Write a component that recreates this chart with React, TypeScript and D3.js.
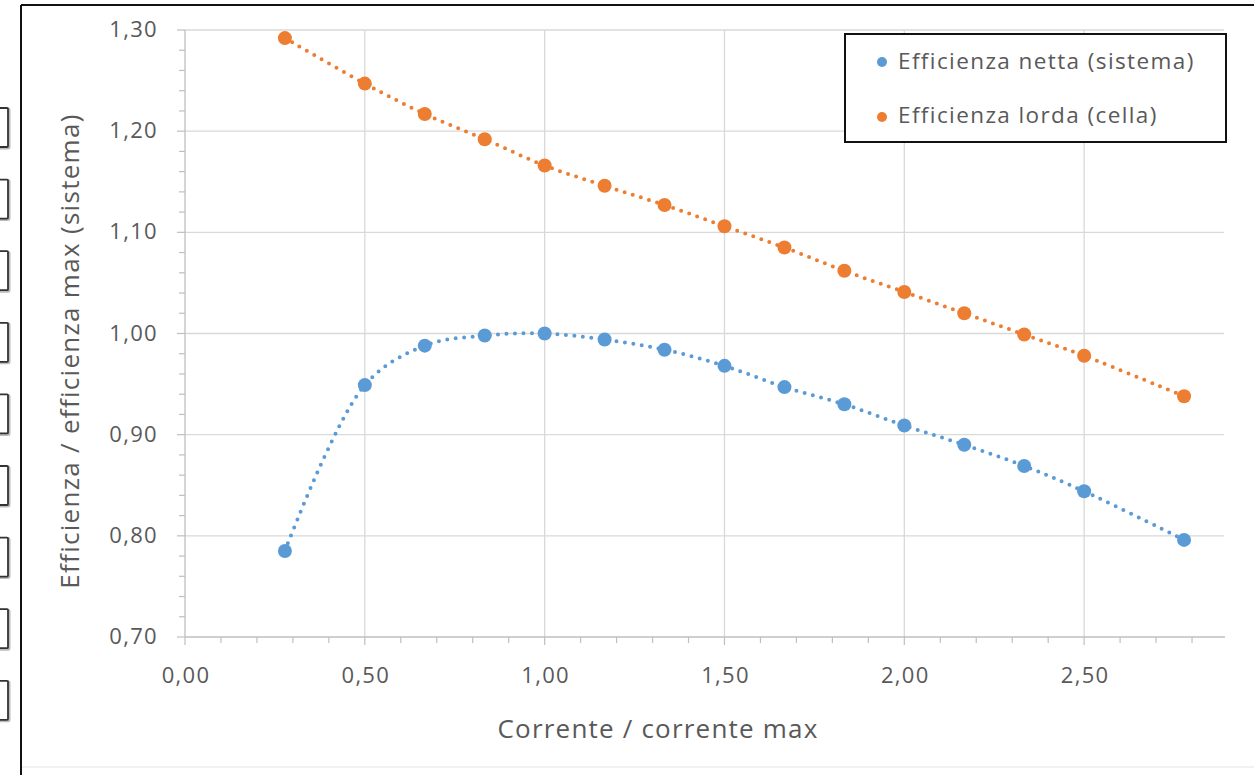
import React from "react";
import * as d3 from "d3";

const xValues = [0.2778, 0.5, 0.6667, 0.8333, 1.0, 1.1667, 1.3333, 1.5, 1.6667, 1.8333, 2.0, 2.1667, 2.3333, 2.5, 2.7778];
const nettaValues = [0.785, 0.949, 0.988, 0.998, 1.0, 0.994, 0.984, 0.968, 0.947, 0.93, 0.909, 0.89, 0.869, 0.844, 0.796];
const lordaValues = [1.292, 1.247, 1.217, 1.192, 1.166, 1.146, 1.127, 1.106, 1.085, 1.062, 1.041, 1.02, 0.999, 0.978, 0.938];
const seriesNames = ["Efficienza netta (sistema)", "Efficienza lorda (cella)"];
const seriesColors = ["#5B9BD5", "#ED7D31"];
const xMajorTicks = [0, 0.5, 1.0, 1.5, 2.0, 2.5];
const yMajorTicks = [0.7, 0.8, 0.9, 1.0, 1.1, 1.2, 1.3];
const xTitle = "Corrente / corrente max";
const yTitle = "Efficienza / efficienza max (sistema)";

const W = 1254;
const H = 775;
const left = 185;
const right = 1228;
const top = 30;
const bottom = 637;
const FONT = "'Open Sans', 'Noto Sans', sans-serif";
const TXT = "#595959";

const fmt = (v: number) => v.toFixed(2).replace(".", ",");

export default function App() {
  const x = d3.scaleLinear().domain([0, 2.9]).range([left, right]);
  const y = d3.scaleLinear().domain([0.7, 1.3]).range([bottom, top]);

  const xMinor = d3.range(0, 29).map((i) => i / 10);
  const yMinor = d3.range(0, 31).map((i) => 0.7 + i * 0.02);

  const line = d3
    .line<[number, number]>()
    .x((d) => x(d[0]))
    .y((d) => y(d[1]))
    .curve(d3.curveCatmullRom.alpha(0.5));

  const series = [nettaValues, lordaValues];
  const boxes = d3.range(0, 9);

  return (
    <svg
      width={W}
      height={H}
      style={{ position: "absolute", left: 0, top: 0, background: "#fff" }}
      fontFamily={FONT}
    >
      <rect x={0} y={0} width={W} height={H} fill="#fff" />
      {/* spreadsheet cells at left edge */}
      {boxes.map((i) => (
        <g key={i}>
          <rect x={-4} y={109 + i * 71.6} width={13} height={39} fill="#fff" stroke="#bbb" strokeWidth={3} rx={1} />
          <rect x={-4} y={108 + i * 71.6} width={12} height={39} fill="#fff" stroke="#333" strokeWidth={1.8} rx={1} />
        </g>
      ))}
      {/* chart frame */}
      <line x1={21} y1={5} x2={W} y2={5} stroke="#111" strokeWidth={2} />
      <line x1={21} y1={5} x2={21} y2={H} stroke="#111" strokeWidth={2} />
      <line x1={22} y1={767} x2={W} y2={767} stroke="#eeeeee" strokeWidth={1.5} />

      {/* gridlines */}
      {yMajorTicks.slice(1).map((t) => (
        <line key={"gy" + t} x1={left} x2={right - 4} y1={y(t)} y2={y(t)} stroke="#d9d9d9" strokeWidth={1.3} />
      ))}
      {xMajorTicks.slice(1).map((t) => (
        <line key={"gx" + t} x1={x(t)} x2={x(t)} y1={top} y2={bottom} stroke="#d9d9d9" strokeWidth={1.3} />
      ))}

      {/* axes */}
      <line x1={left} x2={left} y1={top} y2={bottom} stroke="#bfbfbf" strokeWidth={1.3} />
      <line x1={left} x2={right - 3} y1={bottom} y2={bottom} stroke="#bfbfbf" strokeWidth={1.3} />
      {yMinor.map((t, i) => (
        <line
          key={"ym" + i}
          x1={i % 5 === 0 ? left - 8 : left - 6}
          x2={left}
          y1={y(t)}
          y2={y(t)}
          stroke="#bfbfbf"
          strokeWidth={1.2}
        />
      ))}
      {xMinor.map((t, i) => (
        <line
          key={"xm" + i}
          x1={x(t)}
          x2={x(t)}
          y1={bottom}
          y2={i % 5 === 0 ? bottom + 8 : bottom + 6}
          stroke="#bfbfbf"
          strokeWidth={1.2}
        />
      ))}

      {/* tick labels */}
      {yMajorTicks.map((t) => (
        <text key={"yl" + t} x={158} y={y(t) + 7} textAnchor="end" fontSize={22} fill={TXT} letterSpacing={1.3}>
          {fmt(t)}
        </text>
      ))}
      {xMajorTicks.map((t) => (
        <text key={"xl" + t} x={x(t) + 1} y={683} textAnchor="middle" fontSize={22} fill={TXT} letterSpacing={1.3}>
          {fmt(t)}
        </text>
      ))}

      {/* axis titles */}
      <text x={658} y={738} textAnchor="middle" fontSize={26} fill={TXT} letterSpacing={1.2}>
        {xTitle}
      </text>
      <text
        transform={`translate(79, 351) rotate(-90)`}
        textAnchor="middle"
        fontSize={26}
        fill={TXT}
        letterSpacing={1.3}
      >
        {yTitle}
      </text>

      {/* trendlines */}
      {series.map((vals, si) => (
        <path
          key={"tl" + si}
          d={line(xValues.map((xv, i) => [xv, vals[i]] as [number, number])) || ""}
          fill="none"
          stroke={seriesColors[si]}
          strokeWidth={4}
          strokeLinecap="round"
          strokeDasharray="0 8.5"
        />
      ))}

      {/* markers */}
      {series.map((vals, si) =>
        xValues.map((xv, i) => (
          <circle key={"m" + si + "-" + i} cx={x(xv)} cy={y(vals[i])} r={7} fill={seriesColors[si]} />
        ))
      )}

      {/* legend */}
      <rect x={845} y={34} width={381} height={108} fill="#fff" stroke="#111" strokeWidth={2} />
      {seriesNames.map((name, i) => (
        <g key={"lg" + i}>
          <circle cx={882} cy={62 + i * 55} r={5} fill={seriesColors[i]} />
          <text x={898} y={69 + i * 54} fontSize={22.5} fill={TXT} letterSpacing={1.4}>
            {name}
          </text>
        </g>
      ))}
    </svg>
  );
}
